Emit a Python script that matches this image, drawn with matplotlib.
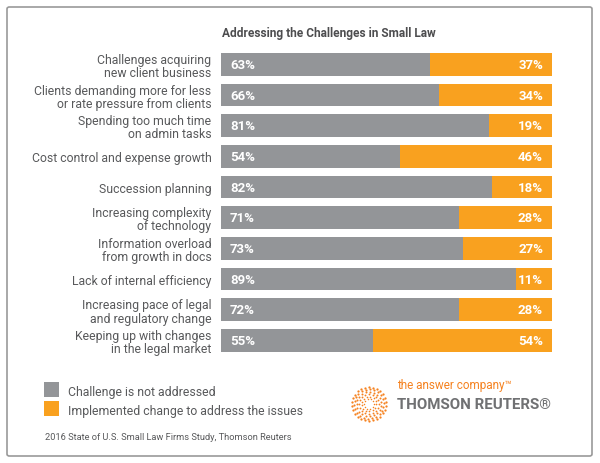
import numpy as np
import matplotlib
matplotlib.use("Agg")
import matplotlib.pyplot as plt
from matplotlib.patches import FancyBboxPatch, Rectangle

plt.rcParams['font.family'] = ['Roboto', 'DejaVu Sans']

# data
challenges = [
    "Challenges acquiring\nnew client business",
    "Clients demanding more for less\nor rate pressure from clients",
    "Spending too much time\non admin tasks",
    "Cost control and expense growth",
    "Succession planning",
    "Increasing complexity\nof technology",
    "Information overload\nfrom growth in docs",
    "Lack of internal efficiency",
    "Increasing pace of legal\nand regulatory change",
    "Keeping up with changes\nin the legal market",
]
not_addressed = [63, 66, 81, 54, 82, 71, 73, 89, 72, 55]
implemented = [37, 34, 19, 46, 18, 28, 27, 11, 28, 54]

GRAY = "#939598"
ORANGE = "#f9a11f"
TXT = "#58595b"

fig = plt.figure(figsize=(6, 4.64), dpi=100)

# rounded frame
fig.patches.append(FancyBboxPatch((7 / 600, 1 - 457 / 464), 585 / 600, 449 / 464,
                                  boxstyle="round,pad=0,rounding_size=0.004",
                                  transform=fig.transFigure, fc="white",
                                  ec="#9a9a9a", lw=1.2, zorder=-1))

ax = fig.add_axes([0.3683, 0.2309, 0.5517, 0.6614])
y = np.arange(len(challenges))
gray_len = [100 - v for v in implemented]
ax.barh(y, gray_len, height=0.74, color=GRAY)
ax.barh(y, implemented, left=gray_len, height=0.74, color=ORANGE)
for i in range(len(challenges)):
    ax.text(2.7, i, f"{not_addressed[i]}%", color="white", fontweight="bold",
            fontsize=9.5, va="center", ha="left")
    ax.text(97.3, i, f"{implemented[i]}%", color="white", fontweight="bold",
            fontsize=9.5, va="center", ha="right")
ax.set_xlim(0, 100)
ax.set_ylim(len(challenges) - 0.5, -0.5)
ax.set_yticks(y)
ax.set_yticklabels(challenges, fontsize=8.8, color=TXT, linespacing=1.02)
ax.tick_params(axis="y", length=0, pad=7)
ax.set_xticks([])
for s in ax.spines.values():
    s.set_visible(False)

fig.text(329 / 600, 1 - 33 / 464, "Addressing the Challenges in Small Law",
         ha="center", va="center", fontsize=8.6, fontweight="bold", color="#4d4d4f")

# legend
for yy, col, lab in [(390.5, GRAY, "Challenge is not addressed"),
                     (409.5, ORANGE, "Implemented change to address the issues")]:
    fig.patches.append(Rectangle((44 / 600, 1 - (yy + 7.5) / 464), 15 / 600, 15 / 464,
                                 transform=fig.transFigure, fc=col, ec="none"))
    fig.text(68 / 600, 1 - (yy + 2) / 464, lab, ha="left", va="center",
             fontsize=8.8, color=TXT)

fig.text(45 / 600, 1 - 438 / 464, "2016 State of U.S. Small Law Firms Study, Thomson Reuters",
         ha="left", va="center", fontsize=6.7, color=TXT)

# logo
lax = fig.add_axes([(369 - 18) / 600, 1 - (405 + 18) / 464, 36 / 600, 36 / 464])
for r, n in [(0.3, 10), (0.45, 13), (0.6, 16), (0.75, 19), (0.9, 22), (1.03, 26)]:
    th = np.linspace(0, 2 * np.pi, n, endpoint=False) + r * 2
    lax.scatter(r * np.cos(th), r * np.sin(th), s=2.0 * r + 0.6, color="#f58220", lw=0)
lax.set_xlim(-1.1, 1.1)
lax.set_ylim(-1.1, 1.1)
lax.axis("off")

fig.text(397 / 600, 1 - 386 / 464, "the answer company\u2122", ha="left", va="center",
         fontsize=8.5, color="#f58220")
fig.text(397 / 600, 1 - 405 / 464, "THOMSON REUTERS\u00ae", ha="left", va="center",
         fontsize=10.8, fontweight="bold", color="#707173")

fig.savefig("out.png", dpi=100)
